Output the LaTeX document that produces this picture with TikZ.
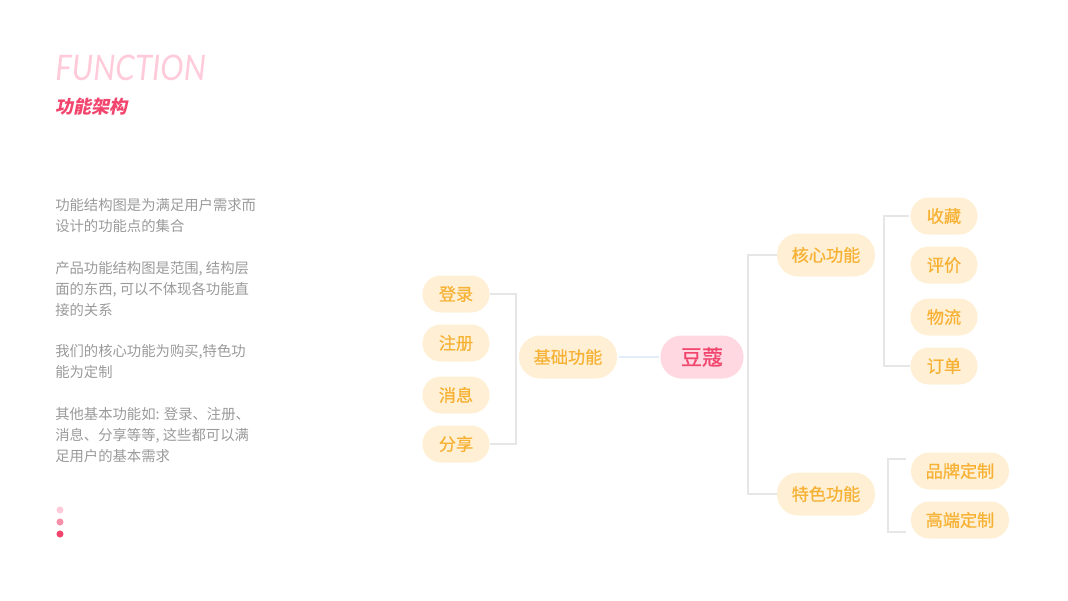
\documentclass[tikz,border=0pt]{standalone}
\usepackage{fontspec}
\setmainfont{Noto Sans CJK SC}
\newfontfamily\cjk{Noto Sans CJK SC}
\newfontfamily\cjkmid{Noto Sans CJK SC}[FakeBold=0.8]
\newfontfamily\cjkslant{Noto Sans CJK SC}[FakeSlant=0.2]
\newfontfamily\titlefont{Lato}
\usetikzlibrary{positioning}

\definecolor{cream}{HTML}{FFF0D5}
\definecolor{amber}{HTML}{F7B236}
\definecolor{blush}{HTML}{FFD8E1}
\definecolor{rose}{HTML}{F2456E}
\definecolor{linegray}{HTML}{E6E6E6}
\definecolor{paleblue}{HTML}{E3EDF9}
\definecolor{textgray}{HTML}{9A9A9A}
\definecolor{titlepink}{HTML}{FFCBDA}

\begin{document}
\begin{tikzpicture}[x=0.025cm, y=-0.025cm,
    leaf/.style={rectangle, rounded corners=13pt, fill=cream, text=amber,
      minimum width=1.675cm, minimum height=0.925cm, inner sep=0pt,
      font=\cjkmid\fontsize{12.2pt}{12.2pt}\selectfont},
    wideleaf/.style={leaf, minimum width=2.45cm},
    branch/.style={leaf, rounded corners=15pt, minimum width=2.45cm, minimum height=1.075cm},
    root/.style={branch, fill=blush, text=rose, minimum width=2.075cm,
      font=\cjkmid\fontsize{15pt}{15pt}\selectfont},
    body/.style={anchor=base west, inner sep=0pt, text=textgray,
      font=\cjk\fontsize{10.2pt}{10.2pt}\selectfont},
    link/.style={draw=linegray, line width=1.4pt}
  ]
  \useasboundingbox (0,0) rectangle (1068,600);

  % title
  \node[anchor=base west, inner sep=0pt, text=titlepink, xscale=0.89,
    font=\titlefont\itshape\fontsize{25pt}{25pt}\selectfont] (title) at (55,80) {FUNCTION};
  \node[anchor=base west, inner sep=0pt, text=rose,
    font=\cjkslant\bfseries\fontsize{12.8pt}{12.8pt}\selectfont] (subtitle) at (55,113) {功能架构};

  % left text
  \foreach \y/\t in {210/功能结构图是为满足用户需求而, 231/设计的功能点的集合,
      273/{产品功能结构图是范围, 结构层}, 294/{面的东西, 可以不体现各功能直}, 315/接的关系,
      356/{我们的核心功能为购买,特色功}, 377/能为定制,
      419/{其他基本功能如: 登录、注册、}, 440/{消息、分享等等, 这些都可以满}, 461/足用户的基本需求}{
    \node[body] (line\y) at (55,\y) {\t};
  }

  % dots
  \fill[titlepink] (60,510) circle (2.5pt);
  \fill[rose!60] (60,522) circle (2.5pt);
  \fill[rose] (60,534) circle (2.5pt);

  % draw nodes
  \node[root] (dk) at (702,357) {豆蔻};
  \node[branch] (jc) at (568,357) {基础功能};
  \node[branch] (hx) at (826,255) {核心功能};
  \node[branch] (ts) at (826,494) {特色功能};
  \foreach \n/\t/\y in {dl/登录/294, zc/注册/343, xx/消息/395, fx/分享/444}{
    \node[leaf] (\n) at (456,\y) {\t};
  }
  \foreach \n/\t/\y in {sc/收藏/216, pj/评价/265, wl/物流/317, dd/订单/366}{
    \node[leaf] (\n) at (944,\y) {\t};
  }
  \node[wideleaf] (pp) at (960,471) {品牌定制};
  \node[wideleaf] (gd) at (960,520) {高端定制};

  % draw links
  \draw[link] (dl.east) -| ([xshift=-2pt]jc.west) |- (fx.east);
  \draw[draw=paleblue, line width=1.4pt, shorten <=1pt, shorten >=1pt] (jc.east) -- (dk.west);
  \draw[link] (hx.west) -| ([xshift=3pt]dk.east) |- (ts.west);
  \draw[link, shorten <=1pt] (sc.west) -| ([xshift=6pt]hx.east) |- (dd.west);
  \draw[link, shorten <=3pt, shorten >=3pt] ([yshift=8.5pt]pp.west) -| ([xshift=9pt]ts.east) |- ([yshift=-8.5pt]gd.west);
\end{tikzpicture}
\end{document}
